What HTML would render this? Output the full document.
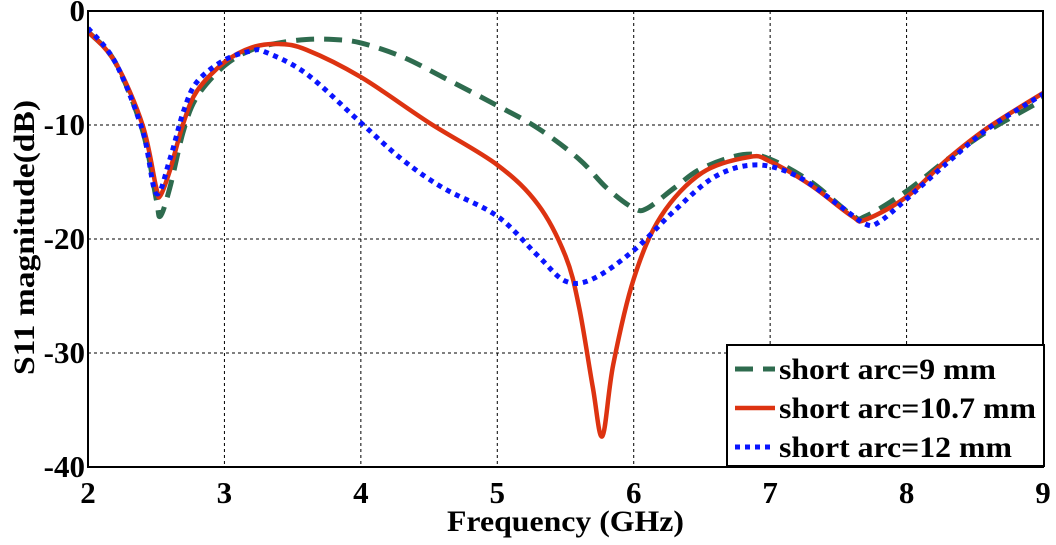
<!DOCTYPE html>
<html><head><meta charset="utf-8"><style>
body{margin:0;background:#fff;width:1056px;height:540px;overflow:hidden}
text{font-family:"Liberation Serif",serif;font-weight:bold;fill:#000}
</style></head><body>
<svg id="c" width="1056" height="540"></svg>
<script>
const xTicks=[2,3,4,5,6,7,8,9];
const yTicks=[0,-10,-20,-30,-40];
const fGreen=[2,2.2,2.4,2.5,2.53,2.6,2.7,2.8,3,3.2,3.4,3.6,3.8,4,4.3,4.6,5,5.3,5.6,5.8,6,6.1,6.3,6.5,6.8,7,7.3,7.6,7.7,8,8.3,8.6,9];
const sGreen=[-1.8,-4.5,-10.5,-16.5,-18,-15.5,-10.5,-7.5,-4.8,-3.4,-2.8,-2.5,-2.5,-2.8,-4,-5.8,-8.3,-10.3,-13,-15.5,-17.3,-17.3,-15.5,-13.8,-12.6,-13,-15,-17.9,-18,-15.8,-13,-10.5,-7.8];
const fRed=[2,2.2,2.4,2.5,2.53,2.6,2.7,2.8,3,3.2,3.4,3.6,4,4.5,5,5.3,5.5,5.6,5.7,5.77,5.85,6,6.2,6.5,6.85,7,7.3,7.6,7.7,8,8.3,8.6,9];
const sRed=[-1.8,-4.5,-10,-15.5,-16.2,-14,-9.8,-7,-4.5,-3.2,-2.9,-3.4,-5.8,-9.8,-13.5,-17,-21.5,-26,-33,-37.3,-31,-23.5,-18,-14.2,-12.8,-13.2,-15.3,-18,-18.3,-16.3,-13,-10.2,-7.2];
const fBlue=[2,2.2,2.4,2.5,2.6,2.7,2.8,3,3.2,3.3,3.6,4,4.3,4.6,5,5.3,5.5,5.7,6,6.3,6.6,6.9,7.2,7.5,7.7,7.8,8,8.3,8.6,9];
const sBlue=[-1.5,-4.5,-10.5,-16,-13,-8.8,-6.2,-4.3,-3.5,-3.6,-5.5,-9.8,-13,-15.5,-18,-21.5,-23.7,-23.5,-21,-17.5,-14.5,-13.5,-14.5,-17,-18.7,-18.5,-16.5,-13.3,-10.3,-7.3];
const L=88,R=1043,T=11,B=467;
const X=v=>L+(v-2)/7*(R-L), Y=v=>T+(-v)/40*(B-T);
const svg=document.getElementById('c');const NS='http://www.w3.org/2000/svg';
function mk(t,a,p){const e=document.createElementNS(NS,t);for(const k in a)e.setAttribute(k,a[k]);(p||svg).appendChild(e);return e;}
xTicks.forEach(v=>{if(v>2&&v<9){const g=mk('line',{x1:X(v),x2:X(v),y1:T,y2:B,stroke:'#000','stroke-dasharray':'3,3','stroke-width':1});

}
const t=mk('text',{x:X(v),y:B+36,'text-anchor':'middle','font-size':31});t.textContent=v;

});
yTicks.forEach(v=>{if(v<0&&v>-40){const g=mk('line',{x1:L,x2:R,y1:Y(v),y2:Y(v),stroke:'#000','stroke-dasharray':'3,3','stroke-width':1});

}
const t=mk('text',{x:L-3,y:Y(v)+10,'text-anchor':'end','font-size':31});t.textContent=v;

});
function path(fs,ss){const p=fs.map((f,i)=>[X(f),Y(ss[i])]);let d='M'+p[0][0]+','+p[0][1];
for(let i=0;i<p.length-1;i++){const p0=p[Math.max(i-1,0)],p1=p[i],p2=p[i+1],p3=p[Math.min(i+2,p.length-1)];
d+=` C${p1[0]+(p2[0]-p0[0])/6},${p1[1]+(p2[1]-p0[1])/6} ${p2[0]-(p3[0]-p1[0])/6},${p2[1]-(p3[1]-p1[1])/6} ${p2[0]},${p2[1]}`;}return d;}
const clip=mk('clipPath',{id:'cl'});mk('rect',{x:L,y:T,width:R-L,height:B-T},clip);
const g1=mk('path',{d:path(fGreen,sGreen),fill:'none',stroke:'#2e6b4e','stroke-width':5,'stroke-dasharray':'18,10','clip-path':'url(#cl)'});


const g2=mk('path',{d:path(fRed,sRed),fill:'none',stroke:'#dd3311','stroke-width':4.5,'clip-path':'url(#cl)'});


const g3=mk('path',{d:path(fBlue,sBlue),fill:'none',stroke:'#0a14ff','stroke-width':5,'stroke-dasharray':'5,5','clip-path':'url(#cl)'});


const fr=mk('rect',{x:L,y:T,width:R-L,height:B-T,fill:'none',stroke:'#000','stroke-width':2});


const lg=mk('g',{});


mk('rect',{x:727,y:345,width:317,height:121,fill:'#fff',stroke:'#000','stroke-width':2},lg);
const items=[['short arc=9 mm','#2e6b4e','18,10',5,217],['short arc=10.7 mm','#dd3311','none',4.5,257],['short arc=12 mm','#0a14ff','5,5',5,233]];
items.forEach((it,i)=>{const y=369+i*39;
mk('line',{x1:735,x2:775,y1:y,y2:y,stroke:it[1],'stroke-width':it[3],'stroke-dasharray':it[2]},lg);
const t=mk('text',{x:779,y:y+10,'font-size':30,textLength:it[4],lengthAdjust:'spacingAndGlyphs'},lg);t.textContent=it[0];

});
const xt=mk('text',{x:447,y:531,'font-size':30,textLength:237,lengthAdjust:'spacingAndGlyphs'});xt.textContent='Frequency (GHz)';


const yt=mk('text',{x:-375,y:0,'font-size':30,textLength:275,lengthAdjust:'spacingAndGlyphs',transform:'translate(34,0) rotate(-90)'});yt.textContent='S11 magnitude(dB)';


</script>
</body></html>
